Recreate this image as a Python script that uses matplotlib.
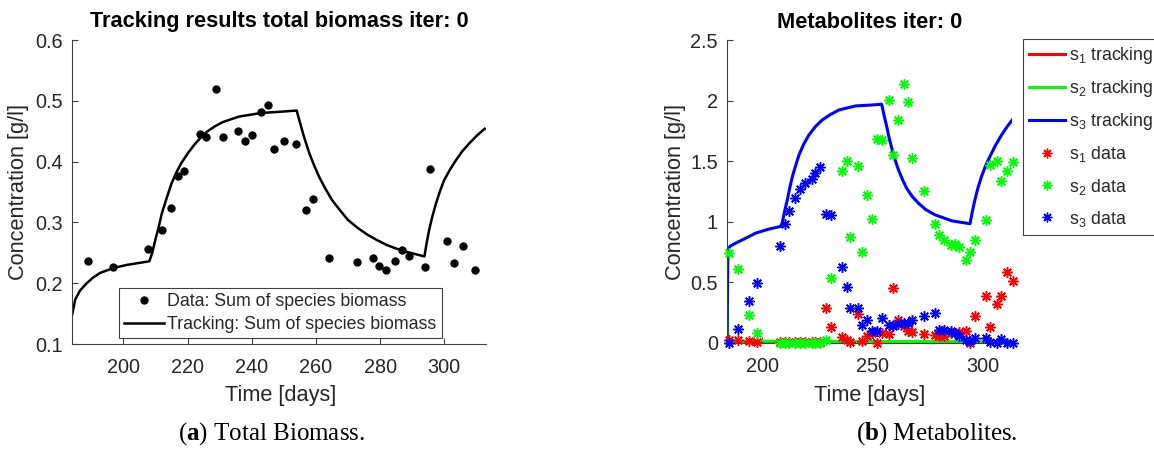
import matplotlib
matplotlib.use("Agg")
import matplotlib.pyplot as plt
from matplotlib.lines import Line2D
from matplotlib.ticker import FormatStrFormatter

# ---------------- data ----------------
bio_days = [188.9, 196.9, 207.8, 212.1, 215.0, 217.1, 219.0, 223.8, 225.9, 228.9,
            231.0, 235.8, 237.9, 240.0, 242.9, 245.0, 246.8, 250.0, 253.9, 256.9,
            259.0, 264.0, 272.9, 277.8, 279.8, 281.9, 284.8, 286.9, 288.9, 294.0,
            295.6, 300.7, 302.9, 305.8, 309.6]
bio_vals = [0.237, 0.227, 0.256, 0.287, 0.323, 0.377, 0.384, 0.445, 0.440, 0.520,
            0.440, 0.451, 0.434, 0.443, 0.481, 0.493, 0.421, 0.434, 0.429, 0.320,
            0.338, 0.242, 0.235, 0.242, 0.228, 0.222, 0.237, 0.255, 0.244, 0.227,
            0.388, 0.269, 0.233, 0.261, 0.222]

trk_days = [184.0, 185.0, 186.5, 188.6, 190.5, 192.8, 196.9, 201.0, 204.5, 208.1,
            209.0, 210.0, 211.0, 212.0, 213.5, 215.0, 216.5, 218.0, 220.0, 222.0,
            224.0, 226.0, 228.5, 231.0, 236.0, 243.0, 249.0, 254.0, 255.0, 256.0,
            257.0, 258.0, 259.5, 261.0, 263.0, 265.0, 267.5, 270.0, 273.0, 276.0,
            279.0, 282.0, 285.0, 288.0, 293.8, 294.5, 295.3, 296.3, 297.4, 298.7,
            300.0, 301.8, 303.6, 305.6, 307.8, 310.2, 312.6]
trk_vals = [0.147, 0.173, 0.188, 0.200, 0.209, 0.217, 0.225, 0.230, 0.233, 0.236,
            0.250, 0.272, 0.292, 0.315, 0.340, 0.364, 0.382, 0.397, 0.413, 0.427,
            0.439, 0.449, 0.458, 0.465, 0.474, 0.480, 0.482, 0.484, 0.465, 0.446,
            0.429, 0.413, 0.393, 0.375, 0.355, 0.337, 0.320, 0.304, 0.291, 0.280,
            0.271, 0.263, 0.257, 0.252, 0.244, 0.266, 0.288, 0.310, 0.331, 0.352,
            0.370, 0.387, 0.402, 0.417, 0.430, 0.443, 0.454]

# metabolite tracking lines
s3_trk_days = [184.0, 184.4, 185.5, 187.9, 192.5, 197.0, 203.0, 208.3, 209.0, 210.1,
               211.3, 212.4, 213.6, 215.0, 216.6, 218.7, 221.1, 224.0, 227.1, 230.8,
               234.7, 242.2, 249.8, 254.0, 255.2, 256.3, 257.4, 258.6, 260.0, 261.6,
               263.4, 265.3, 267.8, 270.6, 274.0, 278.1, 285.7, 294.0, 295.0, 296.2,
               297.6, 299.2, 301.0, 303.0, 305.5, 308.3, 310.8, 313.1]
s3_trk_vals = [0.0, 0.77, 0.80, 0.824, 0.865, 0.907, 0.94, 0.962, 0.99, 1.09,
               1.18, 1.28, 1.374, 1.46, 1.552, 1.64, 1.717, 1.785, 1.84, 1.885,
               1.923, 1.956, 1.964, 1.97, 1.87, 1.786, 1.69, 1.607, 1.515, 1.429,
               1.35, 1.277, 1.21, 1.154, 1.10, 1.058, 1.008, 0.984, 1.08, 1.181,
               1.28, 1.374, 1.46, 1.538, 1.63, 1.717, 1.785, 1.84]
s2_trk_days = [184.0, 184.4, 185.0, 208.0, 254.0, 294.0, 313.1]
s2_trk_vals = [0.75, 0.02, 0.016, 0.015, 0.012, 0.014, 0.015]
s1_trk_days = [184.0, 313.1]
s1_trk_vals = [0.003, 0.003]

# metabolite measurements
met_days = [184.8, 189.0, 194.1, 197.6, 208.0, 210.4, 212.0, 214.9, 217.2, 219.3,
            222.5, 224.0, 226.2, 228.8, 231.1, 236.0, 238.2, 239.8, 243.1, 244.9,
            247.3, 249.6, 252.1, 254.0, 257.2, 259.0, 261.2, 264.0, 265.9, 267.8,
            273.3, 278.0, 279.9, 282.4, 285.2, 287.3, 289.1, 292.2, 294.0, 296.2,
            301.1, 303.0, 306.0, 308.1, 310.6, 313.4]
s1_data = [0.022, 0.027, 0.014, 0.005, 0.012, 0.012, 0.010, 0.012, 0.010, 0.012,
           0.010, 0.012, 0.010, 0.288, 0.132, 0.049, 0.022, 0.005, 0.242, 0.014,
           0.055, 0.082, 0.0, 0.082, 0.077, 0.453, 0.19, 0.143, 0.102, 0.093,
           0.074, 0.063, 0.060, 0.055, 0.082, 0.082, 0.09, 0.096, 0.0, 0.22,
           0.39, 0.132, 0.321, 0.385, 0.585, 0.508]
s2_data = [0.742, 0.61, 0.234, 0.082, 0.0, 0.0, 0.0, 0.0, 0.0, 0.0,
           0.0, 0.0, 0.0, 0.027, 0.536, 1.423, 1.505, 0.874, 1.464, 0.75,
           1.223, 1.022, 1.684, 1.676, 2.005, 1.552, 1.84, 2.135, 1.992, 1.525,
           1.258, 0.984, 0.893, 0.852, 0.81, 0.819, 0.79, 0.681, 0.75, 0.846,
           1.011, 1.47, 1.505, 1.338, 1.42, 1.497]
s3_data = [0.0, 0.115, 0.343, 0.495, 0.797, 0.978, 1.09, 1.195, 1.272, 1.324,
           1.354, 1.40, 1.456, 1.066, 1.052, 0.626, 0.462, 0.288, 0.288, 0.148,
           0.187, 0.096, 0.096, 0.206, 0.151, 0.143, 0.159, 0.165, 0.165, 0.19,
           0.22, 0.247, 0.11, 0.11, 0.096, 0.082, 0.058, 0.027, 0.014, 0.041,
           0.041, 0.005, 0.0, 0.033, 0.0, 0.0]

left_xticks = [200, 220, 240, 260, 280, 300]
left_yticks = [0.1, 0.2, 0.3, 0.4, 0.5, 0.6]
right_xticks = [200, 250, 300]
right_yticks = [0, 0.5, 1, 1.5, 2, 2.5]

# ---------------- style ----------------
plt.rcParams['font.family'] = ['Liberation Sans', 'DejaVu Sans']
plt.rcParams['mathtext.fontset'] = 'custom'
plt.rcParams['mathtext.rm'] = 'Liberation Serif'
plt.rcParams['mathtext.bf'] = 'Liberation Serif:bold'

W, H = 1154, 450
fig = plt.figure(figsize=(W / 100, H / 100), dpi=100)
TXT = '#262626'
AX = '#404040'
TICK_FS = 14.3
LAB_FS = 15.7
TITLE_FS = 15.7
LEG_FS = 12.8
ASTER = (8, 2, 0)


def fig_rect(x0, y0, x1, y1):
    return [x0 / W, 1 - y1 / H, (x1 - x0) / W, (y1 - y0) / H]


def style_axes(ax):
    for s in ['top', 'right']:
        ax.spines[s].set_visible(False)
    for s in ['left', 'bottom']:
        ax.spines[s].set_color(AX)
        ax.spines[s].set_linewidth(0.8)
    ax.tick_params(direction='in', length=4, width=0.8, color=AX,
                   labelcolor=TXT, labelsize=TICK_FS)
    ax.tick_params(axis='y', pad=6.5)
    ax.tick_params(axis='x', pad=10)


# ---------- left: total biomass ----------
x0L, x1L = 72, 486
axL = fig.add_axes(fig_rect(x0L, 40, x1L, 344))
style_axes(axL)
axL.plot(trk_days, trk_vals, color='black', lw=1.8, zorder=2)
axL.plot(bio_days, bio_vals, 'o', color='black', ms=5, zorder=3)
axL.set_xlim(184, 313)
axL.set_ylim(0.1, 0.6)
axL.set_xticks(left_xticks)
axL.set_yticks(left_yticks)
axL.yaxis.set_major_formatter(FormatStrFormatter('%g'))
axL.set_xlabel('Time [days]', fontsize=LAB_FS, color=TXT)
axL.set_ylabel('Concentration [g/l]', fontsize=LAB_FS, color=TXT)
axL.xaxis.label.set_va('center')
axL.xaxis.set_label_coords((281 - x0L) / (x1L - x0L), -(395 - 344) / 304)
axL.yaxis.label.set_va('center')
axL.yaxis.set_label_coords(-(x0L - 19) / (x1L - x0L), 0.5)
axL.set_title('Tracking results total biomass iter: 0', fontsize=TITLE_FS,
              fontweight='bold', color='black', pad=9)

hL = [Line2D([], [], ls='none', marker='o', color='black', ms=5),
      Line2D([], [], color='black', lw=1.8)]
legL = axL.legend(hL, ['Data: Sum of species biomass', 'Tracking: Sum of species biomass'],
                  loc='upper left', bbox_to_anchor=(119 / W, 1 - 288 / H),
                  bbox_transform=fig.transFigure, borderaxespad=0, fontsize=LEG_FS,
                  frameon=True, fancybox=False, framealpha=1, edgecolor=AX,
                  handlelength=2.25, handletextpad=0.15, labelspacing=0.32,
                  borderpad=0.3)
legL.get_frame().set_linewidth(0.8)
for t in legL.get_texts():
    t.set_color(TXT)

# ---------- right: metabolites ----------
x0R, x1R = 727, 1012
axR = fig.add_axes(fig_rect(x0R, 40, x1R, 343))
style_axes(axR)
axR.plot(s1_trk_days, s1_trk_vals, color=(1, 0, 0), lw=2.2, zorder=2)
axR.plot(s2_trk_days, s2_trk_vals, color=(0, 1, 0), lw=2.2, zorder=2)
axR.plot(s3_trk_days, s3_trk_vals, color=(0, 0, 1), lw=2.2, zorder=2)
for vals, col in [(s1_data, (1, 0, 0)), (s2_data, (0, 1, 0)), (s3_data, (0, 0, 1))]:
    axR.plot(met_days, vals, ls='none', marker=ASTER, color=col, ms=7.5, mew=1.1,
             clip_on=False, zorder=3)
axR.set_xlim(184, 313)
axR.set_ylim(0, 2.5)
axR.set_xticks(right_xticks)
axR.set_yticks(right_yticks)
axR.yaxis.set_major_formatter(FormatStrFormatter('%g'))
axR.set_xlabel('Time [days]', fontsize=LAB_FS, color=TXT)
axR.set_ylabel('Concentration [g/l]', fontsize=LAB_FS, color=TXT)
axR.xaxis.label.set_va('center')
axR.xaxis.set_label_coords(0.5, -(395 - 343) / 303)
axR.yaxis.label.set_va('center')
axR.yaxis.set_label_coords(-(x0R - 676) / (x1R - x0R), 0.5)
axR.set_title('Metabolites iter: 0', fontsize=TITLE_FS, fontweight='bold',
              color='black', pad=9)

hR = [Line2D([], [], color=(1, 0, 0), lw=2.2),
      Line2D([], [], color=(0, 1, 0), lw=2.2),
      Line2D([], [], color=(0, 0, 1), lw=2.2),
      Line2D([], [], ls='none', marker=ASTER, color=(1, 0, 0), ms=7, mew=1.0),
      Line2D([], [], ls='none', marker=ASTER, color=(0, 1, 0), ms=7, mew=1.0),
      Line2D([], [], ls='none', marker=ASTER, color=(0, 0, 1), ms=7, mew=1.0)]
labR = [r'$\mathregular{s_1}$ tracking', r'$\mathregular{s_2}$ tracking',
        r'$\mathregular{s_3}$ tracking', r'$\mathregular{s_1}$ data',
        r'$\mathregular{s_2}$ data', r'$\mathregular{s_3}$ data']
legR = axR.legend(hR, labR, loc='upper left', bbox_to_anchor=(1023 / W, 1 - 39 / H),
                  bbox_transform=fig.transFigure, borderaxespad=0, fontsize=LEG_FS,
                  frameon=True, fancybox=False, framealpha=1, edgecolor=AX,
                  handlelength=2.0, handletextpad=0.25, labelspacing=0.68,
                  borderpad=0.35)
legR.get_frame().set_linewidth(0.8)
for t in legR.get_texts():
    t.set_color(TXT)

# ---------- captions ----------
fig.text(272 / W, 1 - 434 / H, r'($\mathbf{a}$) Total Biomass.', ha='center', va='center',
         fontsize=18, family='Liberation Serif', color='black')
fig.text(937 / W, 1 - 434 / H, r'($\mathbf{b}$) Metabolites.', ha='center', va='center',
         fontsize=18, family='Liberation Serif', color='black')

fig.savefig('out.png', dpi=100)
